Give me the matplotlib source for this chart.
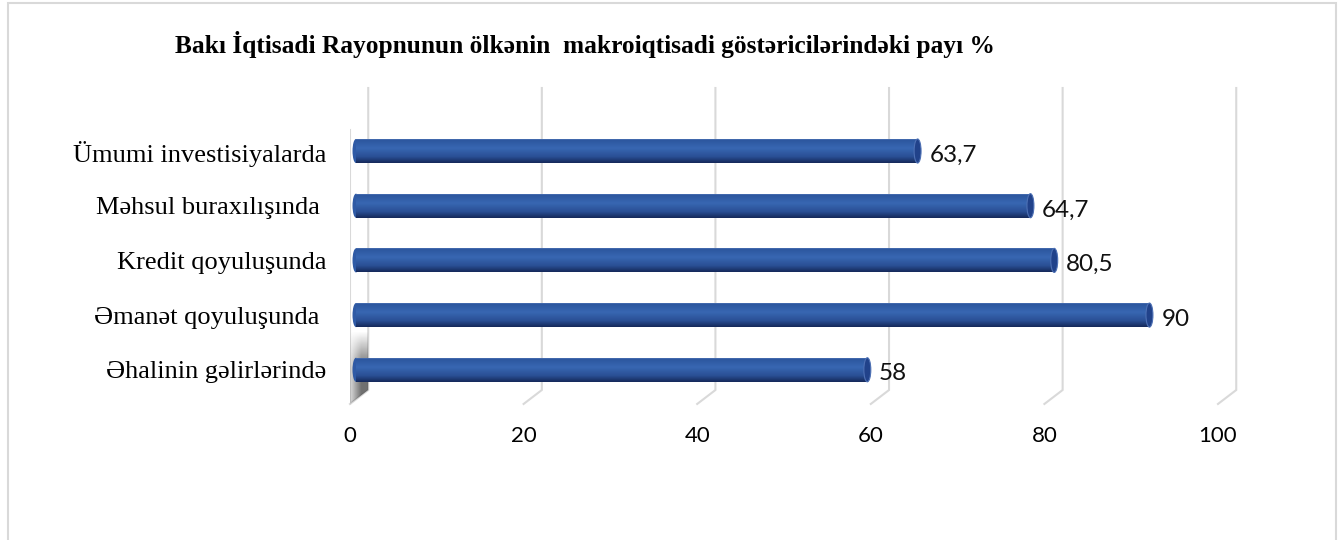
import numpy as np
import matplotlib
matplotlib.use('Agg')
import matplotlib.pyplot as plt
from matplotlib.colors import LinearSegmentedColormap
from matplotlib.patches import Ellipse, Rectangle, Polygon

# data, top to bottom as drawn
categories = ["Ümumi investisiyalarda", "Məhsul buraxılışında ", "Kredit qoyuluşunda",
              "Əmanət qoyuluşunda ", "Əhalinin gəlirlərində"]
bar_values = [63.7, 76.5, 79.2, 90.0, 58.0]
value_labels = ["63,7", "64,7", "80,5", "90", "58"]
x_ticks = [0, 20, 40, 60, 80, 100]
title = "Bakı İqtisadi Rayopnunun ölkənin  makroiqtisadi göstəricilərindəki payı %"

SERIF = ['Liberation Serif', 'DejaVu Serif']
SANS = ['Lato', 'DejaVu Sans']

W, H = 1341, 540
fig = plt.figure(figsize=(W / 100, H / 100), dpi=100)

# outer frame of the chart area
fig.patches.append(Rectangle((8 / W, -0.05), (1336 - 8) / W, 1.05 - 3 / H,
                             transform=fig.transFigure, fill=False,
                             edgecolor='#d9d9d9', linewidth=1.5))

fig.text(175 / W, 1 - 45 / H, title, ha='left', va='center',
         fontsize=18.3, fontweight='bold', family=SERIF)

ax = fig.add_axes([350 / W, 1 - 405 / H, 868 / W, (405 - 88) / H])
ax.set_xlim(0, 100)
ax.set_ylim(4.644, -1.152)
for s in ax.spines.values():
    s.set_visible(False)

# 3d look: back wall shifted right / up
dx = 2.1
y_back = 4.37
y_front = 4.625
y_top = -1.152

for v in x_ticks:
    ax.plot([v + dx, v + dx, v], [y_top, y_back, y_front], color='#d9d9d9',
            lw=1.5, solid_joinstyle='miter', zorder=1, clip_on=False)
ax.plot([0, 0], [-0.38, y_front], color='#d9d9d9', lw=1.5, zorder=1)

# shadow on the floor of the left wall
wall = Polygon([(0, 3.3), (dx, 3.3), (dx, y_back), (0, y_front)], closed=True,
               facecolor='none', edgecolor='none')
ax.add_patch(wall)
xs = np.linspace(0, 1, 40)
ys = np.linspace(0, 1, 60)
XX, YY = np.meshgrid(xs, ys)
alpha = (0.25 + 0.75 * np.clip(XX / 0.6, 0, 1)) * np.clip(YY / 0.5, 0, 1) * 0.8
shade = np.zeros((60, 40, 4))
shade[..., 0:3] = 0.3
shade[..., 3] = alpha
sh = ax.imshow(shade, extent=[0, dx, y_front, 3.3], aspect='auto', zorder=1.5)
sh.set_clip_path(wall)

# cylinder bars
ypos = np.arange(len(categories))
bh = 0.44
x0 = 0.69
k = 1.0157
cap_w = 0.8
widths = [v * k for v in bar_values]
bars = ax.barh(ypos, widths, left=x0, height=bh, color='#2f5aa5', zorder=3)

cyl = LinearSegmentedColormap.from_list(
    'cyl', [(0, '#7d9bd6'), (0.07, '#2c569e'), (0.4, '#3867b2'),
            (0.75, '#2a4f95'), (1, '#15295a')])
grad = np.linspace(0, 1, 64).reshape(-1, 1)
for b, y, w in zip(bars, ypos, widths):
    ax.add_patch(Ellipse((x0, y), cap_w, bh, facecolor='#2f5aa5',
                         edgecolor='none', zorder=2.5))
    im = ax.imshow(grad, extent=[x0, x0 + w, y + bh / 2, y - bh / 2],
                   aspect='auto', cmap=cyl, zorder=3.1)
    im.set_clip_path(b)
    ax.add_patch(Ellipse((x0 + w, y), cap_w, bh, facecolor='#21428a',
                         edgecolor='#4d70b4', lw=0.8, zorder=3.5))

for y, w, lab in zip(ypos, widths, value_labels):
    ax.annotate(lab, xy=(x0 + w + cap_w / 2, y), xytext=(6, -3),
                textcoords='offset points', ha='left', va='center',
                fontsize=17.5, family=SANS, color='#111111')

ax.set_xlim(0, 100)
ax.set_ylim(4.644, -1.152)
ax.set_xticks(x_ticks)
ax.set_xticklabels([str(t) for t in x_ticks], family=SANS, fontsize=16)
ax.set_yticks(ypos)
ax.set_yticklabels(categories, family=SERIF, fontsize=19)
ax.tick_params(axis='x', length=0, pad=15)
ax.tick_params(axis='y', length=0, pad=17)

fig.savefig('out.png', dpi=100, facecolor='white')
